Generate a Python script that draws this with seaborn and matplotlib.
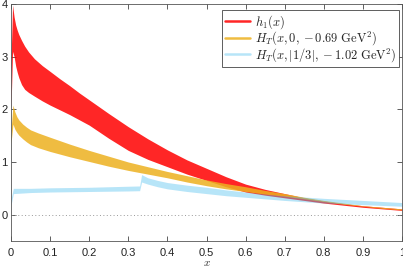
import numpy as np
import matplotlib
matplotlib.use("Agg")
import matplotlib.pyplot as plt
from matplotlib.lines import Line2D
import seaborn as sns

# h1(x) band (red)
x_h1 = [0.0, 0.004, 0.008, 0.012, 0.016, 0.02, 0.027, 0.035, 0.045, 0.06, 0.08,
        0.1, 0.125, 0.15, 0.175, 0.2, 0.25, 0.3, 0.35, 0.4, 0.45, 0.5, 0.55,
        0.6, 0.65, 0.7, 0.75, 0.8, 0.85, 0.9, 0.95, 1.0]
h1_hi = [2.9, 3.98, 3.75, 3.60, 3.50, 3.42, 3.31, 3.20, 3.09, 2.96, 2.83,
         2.72, 2.58, 2.45, 2.31, 2.18, 1.92, 1.67, 1.44, 1.23, 1.04, 0.88, 0.72,
         0.58, 0.48, 0.40, 0.32, 0.26, 0.21, 0.17, 0.14, 0.11]
h1_lo = [2.0, 3.1, 3.0, 2.82, 2.70, 2.60, 2.47, 2.38, 2.32, 2.25, 2.16,
         2.08, 1.99, 1.90, 1.80, 1.70, 1.45, 1.22, 1.05, 0.91, 0.77, 0.65, 0.53,
         0.43, 0.37, 0.32, 0.27, 0.22, 0.18, 0.14, 0.11, 0.08]

# H_T(x, 0, -0.69 GeV^2) band (orange)
x_ht0 = [0.0, 0.005, 0.01, 0.015, 0.02, 0.03, 0.04, 0.05, 0.07, 0.1, 0.15,
         0.2, 0.25, 0.3, 0.35, 0.4, 0.45, 0.5, 0.55, 0.6, 0.65, 0.7, 0.75,
         0.8, 0.85, 0.9, 0.95, 1.0]
ht0_hi = [1.6, 2.08, 1.95, 1.86, 1.80, 1.72, 1.66, 1.61, 1.55, 1.47, 1.34,
          1.22, 1.11, 1.00, 0.91, 0.82, 0.74, 0.66, 0.59, 0.53, 0.46, 0.40, 0.33,
          0.27, 0.22, 0.17, 0.14, 0.11]
ht0_lo = [1.35, 1.72, 1.62, 1.56, 1.51, 1.44, 1.38, 1.33, 1.27, 1.20, 1.10,
          1.01, 0.92, 0.84, 0.77, 0.70, 0.62, 0.55, 0.49, 0.44, 0.39, 0.35, 0.30,
          0.25, 0.20, 0.16, 0.12, 0.09]

# H_T(x, |1/3|, -1.02 GeV^2) band (light blue)
x_ht1 = [0.0, 0.006, 0.05, 0.1, 0.2, 0.3, 0.329, 0.334, 0.35, 0.375, 0.4,
         0.45, 0.5, 0.55, 0.6, 0.65, 0.7, 0.8, 0.9, 1.0]
ht1_hi = [0.30, 0.50, 0.50, 0.51, 0.52, 0.54, 0.545, 0.76, 0.70, 0.65, 0.61,
          0.56, 0.52, 0.47, 0.43, 0.39, 0.36, 0.31, 0.27, 0.23]
ht1_lo = [0.18, 0.40, 0.42, 0.43, 0.44, 0.45, 0.455, 0.62, 0.58, 0.53, 0.49,
          0.44, 0.40, 0.36, 0.33, 0.30, 0.27, 0.22, 0.19, 0.16]

labels = [r"$h_1(x)$",
          r"$H_T(x,0,-0.69\ \mathrm{GeV}^2)$",
          r"$H_T(x,|1/3|,-1.02\ \mathrm{GeV}^2)$"]
colors = [(1, 0, 0), "#EDB120", "#4DBEEE"]
alphas = [0.85, 0.85, 0.4]

sns.set_theme(style="ticks")
plt.rcParams["font.family"] = ["Liberation Sans", "DejaVu Sans"]
plt.rcParams["mathtext.fontset"] = "cm"

fig = plt.figure(figsize=(4.03, 2.71), dpi=100)
ax = fig.add_axes([11 / 403, 30 / 271, 391 / 403, 237 / 271])

bands = [(x_h1, h1_lo, h1_hi), (x_ht0, ht0_lo, ht0_hi), (x_ht1, ht1_lo, ht1_hi)]
for (xx, lo, hi), c, a in zip(bands, colors, alphas):
    ax.fill_between(xx, lo, hi, color=c, alpha=a, linewidth=0)

ax.axhline(0, color="#999999", lw=0.7, ls=(0, (1, 2.5)))

ax.set_xlim(0, 1)
ax.set_ylim(-0.5, 4)
ax.set_xticks(np.arange(0, 1.01, 0.1))
ax.set_xticklabels(["0", "0.1", "0.2", "0.3", "0.4", "0.5", "0.6", "0.7", "0.8", "0.9", "1"])
ax.set_yticks([0, 1, 2, 3, 4])
ax.tick_params(direction="in", length=3.5, width=0.6, color="#444444",
               labelsize=8, top=True, right=True, pad=2.5, labelcolor="#222222")
ax.tick_params(axis="x", pad=5)
for s in ax.spines.values():
    s.set_linewidth(0.6)
    s.set_color("#555555")
ax.set_xlabel(r"$x$", fontsize=8, labelpad=0)

handles = [Line2D([], [], color=c, alpha=a if a > 0.5 else 0.4, lw=1.8)
           for c, a in zip(colors, alphas)]
leg = ax.legend(handles, labels, loc="upper right",
                bbox_to_anchor=(399 / 403, 1 - 10 / 271),
                bbox_transform=fig.transFigure, borderaxespad=0,
                fontsize=9, fancybox=False, framealpha=1, edgecolor="#444444",
                handlelength=2.0, handletextpad=0.35, labelspacing=-0.1,
                borderpad=0.25)
leg.get_frame().set_linewidth(0.6)

fig.savefig("out.png", dpi=100)
